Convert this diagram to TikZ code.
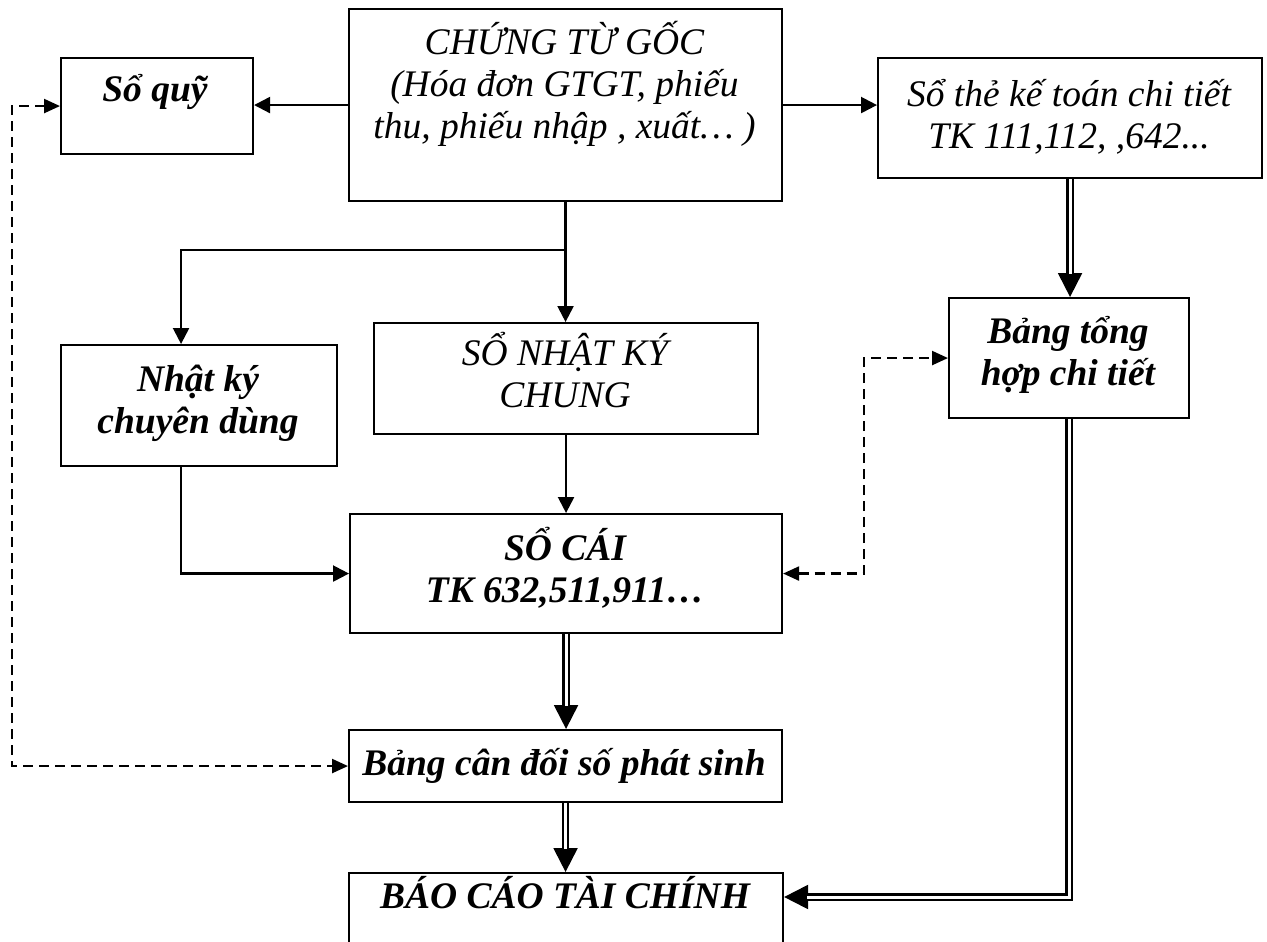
\documentclass[tikz,border=0pt]{standalone}
\usepackage{fontspec}
\setmainfont{Liberation Serif}
\usetikzlibrary{arrows.meta,calc,backgrounds}
\begin{document}
\begin{tikzpicture}[x=1pt,y=-1pt,
  box/.style={draw, line width=2.1pt, rectangle, inner sep=0pt, anchor=north west},
  txt/.style={align=center, font=\fontsize{37.5}{42}\selectfont\itshape, inner sep=0pt, anchor=base},
  btxt/.style={txt, font=\fontsize{37.5}{42}\selectfont\bfseries\itshape},
  arr/.style={line width=2.3pt, -{Triangle[length=16pt,width=16pt]}},
  dbl/.style={double, double distance=3pt, line width=2.1pt, shorten >=23pt},
  dbltip/.style={line width=2.1pt, -{Triangle[length=24pt,width=24pt]}},
  dsh/.style={line width=2.3pt, dash pattern=on 10pt off 6pt,
    {Triangle[length=16pt,width=14pt]}-{Triangle[length=16pt,width=14pt]}},
]
\useasboundingbox (0,0) rectangle (1267,942);

% boxes
\node[box, minimum width=192, minimum height=96]  (quy)  at (60,57)  {};
\node[box, minimum width=433, minimum height=192] (ctg)  at (348,8)  {};
\node[box, minimum width=384, minimum height=120] (sthe) at (877,57) {};
\node[box, minimum width=276, minimum height=121] (nkcd) at (60,344) {};
\node[box, minimum width=384, minimum height=111] (snkc) at (373,322) {};
\node[box, minimum width=240, minimum height=120] (bth)  at (948,297) {};
\node[box, minimum width=432, minimum height=119] (scai) at (349,513) {};
\node[box, minimum width=433, minimum height=72]  (bcd)  at (348,729) {};
\node[box, minimum width=434, minimum height=110] (bctc) at (348,872) {};

% texts (anchored at the baseline of the last line)
\node[btxt] (tquy)  at (155,102)   {Sổ quỹ};
\node[txt]  (tctg)  at (564.5,138) {CHỨNG TỪ GỐC\\(Hóa đơn GTGT, phiếu\\thu, phiếu nhập , xuất… )};
\node[txt]  (tsthe) at (1069,148)  {Sổ thẻ kế toán chi tiết\\TK 111,112, ,642...};
\node[btxt] (tnkcd) at (198,433)   {Nhật ký\\chuyên dùng};
\node[txt]  (tsnkc) at (565,407)   {SỔ NHẬT KÝ\\CHUNG};
\node[btxt] (tbth)  at (1068,385)  {Bảng tổng\\hợp chi tiết};
\node[btxt] (tscai) at (565,602)   {SỔ CÁI\\TK 632,511,911…};
\node[btxt] (tbcd)  at (564,775)   {Bảng cân đối số phát sinh};
\node[btxt] (tbctc) at (565,908)   {BÁO CÁO TÀI CHÍNH};

% helper points
\coordinate (j1) at ($(ctg.south)+(0,48)$);
\coordinate (dq) at (12,400);
\coordinate (dr) at (864,450);
\coordinate (bcin) at ([yshift=-25pt]bctc.north east);

\begin{scope}[on background layer]
  \fill[white] (0,0) rectangle (1267,942);
  % solid flows
  \draw[arr] (ctg.west) -- (ctg.west -| quy.east);
  \draw[arr] (ctg.east) -- (ctg.east -| sthe.west);
  \draw[arr] (ctg.south) -- (ctg.south |- snkc.north);
  \draw[arr] (j1) -| ([xshift=-18pt]nkcd.north);
  \draw[arr] (snkc.south) -- (snkc.south |- scai.north);
  \draw[arr] ([xshift=-18pt]nkcd.south) |- (scai.west);
  % double flows
  \draw[dbltip] (scai.south) -- (scai.south |- bcd.north);
  \draw[dbl]    (scai.south) -- (scai.south |- bcd.north);
  \draw[dbltip] (bcd.south) -- (bcd.south |- bctc.north);
  \draw[dbl]    (bcd.south) -- (bcd.south |- bctc.north);
  \draw[dbltip] (sthe.south) -- (sthe.south |- bth.north);
  \draw[dbl]    (sthe.south) -- (sthe.south |- bth.north);
  \draw[dbltip] (bth.south) |- (bcin);
  \draw[dbl]    (bth.south) |- (bcin);
  % dashed cross-checks
  \draw[dsh] (quy.west) -| (dq) |- (bcd.west);
  \draw[dsh] (scai.east) -| (dr) |- (bth.west);
\end{scope}
\end{tikzpicture}
\end{document}
